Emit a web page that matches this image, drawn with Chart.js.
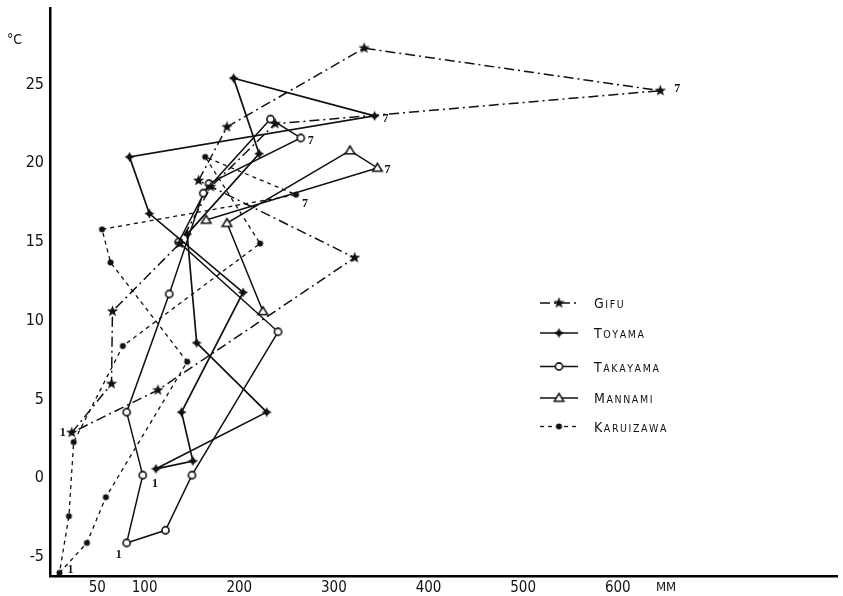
<!DOCTYPE html>
<html><head><meta charset="utf-8">
<script src="https://cdn.jsdelivr.net/npm/chart.js@4"></script>
<style>html,body{margin:0;padding:0;background:#fff;}canvas{display:block}</style>
</head><body>
<canvas id="c" width="843" height="596"></canvas>
<script>
// ---- data (precipitation mm, mean temperature °C), months 1..12 ----
const monthNumbers = [1,2,3,4,5,6,7,8,9,10,11,12];
const seriesNames = ['Gifu','Toyama','Takayama','Mannami','Karuizawa'];
const xTickValues = [50,100,200,300,400,500,600];
const yTickValues = [-5,0,5,10,15,20,25];

const gifuPrecip = [23,65,66,137,170,238,645,332,187,157,322,114];
const gifuTemp   = [2.9,6.0,10.6,14.9,18.5,22.5,24.6,27.3,22.3,18.9,14.0,5.6];

const toyamaPrecip = [112,151,139,204,105,84,343,194,221,145,155,229];
const toyamaTemp   = [0.6,1.1,4.2,11.8,16.8,20.4,23.0,25.4,20.6,15.5,8.6,4.2];

const takayamaPrecip = [81,122,150,241,136,168,265,233,162,126,81,98];
const takayamaTemp   = [-4.1,-3.3,0.2,9.3,15.0,18.7,21.6,22.8,18.1,11.7,4.2,0.2];

const mannamiPrecip = [null,null,null,null,null,165,346,317,187,225,null,null];
const mannamiTemp   = [null,null,null,null,null,16.4,19.7,20.8,16.2,10.6,null,null];

const karuizawaPrecip = [10,39,59,145,64,55,260,164,222,77,25,20];
const karuizawaTemp   = [-6.0,-4.1,-1.2,7.4,13.7,15.8,18.0,20.4,14.9,8.4,2.3,-2.4];

// ---- marker images ----
function mk(size, draw){const c=document.createElement('canvas');c.width=size;c.height=size;const g=c.getContext('2d');draw(g,size/2);return c;}
function starPath(g,c,n,ro,ri,rot){g.beginPath();for(let i=0;i<2*n;i++){const r=i%2?ri:ro;const a=rot+i*Math.PI/n;g.lineTo(c+r*Math.sin(a),c-r*Math.cos(a));}g.closePath();}
const gifuMark = mk(13,(g,c)=>{g.fillStyle='#111';starPath(g,c,5,6,2.5,0);g.fill();});
const toyamaMark = mk(11,(g,c)=>{g.fillStyle='#111';starPath(g,c,4,5,2.3,0);g.fill();g.beginPath();g.arc(c,c,2.6,0,7);g.fill();});
const takayamaMark = mk(11,(g,c)=>{g.fillStyle='#fff';g.strokeStyle='#111';g.lineWidth=1.6;g.beginPath();g.arc(c,c,3.6,0,7);g.fill();g.stroke();});
const mannamiMark = mk(13,(g,c)=>{g.fillStyle='#fff';g.strokeStyle='#111';g.lineWidth=1.5;g.beginPath();g.moveTo(c,c-4.5);g.lineTo(c+4.8,c+3.3);g.lineTo(c-4.8,c+3.3);g.closePath();g.fill();g.stroke();});
const karuizawaMark = mk(9,(g,c)=>{g.fillStyle='#111';g.beginPath();g.arc(c,c,3,0,7);g.fill();});

function loopPoints(px, ty, close){
  const pts=[];
  for(let i=0;i<px.length;i++){ if(px[i]!=null && ty[i]!=null) pts.push({x:px[i], y:ty[i], m:monthNumbers[i]}); }
  if(close && pts.length) pts.push({x:pts[0].x, y:pts[0].y, m:0});
  return pts;
}

const styles = [
  {mark:gifuMark, dash:[10,4,2,4], w:1.5},
  {mark:toyamaMark, dash:[], w:1.7},
  {mark:takayamaMark, dash:[], w:1.5},
  {mark:mannamiMark, dash:[], w:1.5},
  {mark:karuizawaMark, dash:[4,4], w:1.3}
];
const seriesData = [
  loopPoints(gifuPrecip,gifuTemp,true),
  loopPoints(toyamaPrecip,toyamaTemp,true),
  loopPoints(takayamaPrecip,takayamaTemp,true),
  loopPoints(mannamiPrecip,mannamiTemp,false),
  loopPoints(karuizawaPrecip,karuizawaTemp,true)
];
// offsets of month labels "1"/"7" (style only)
const labelOffsets = [
  {1:[-9,0], 7:[17,-2]},
  {1:[-1,15], 7:[11,3]},
  {1:[-8,12], 7:[10,3]},
  {7:[10,2]},
  {1:[11,-3], 7:[9,9]}
];

const datasets = seriesNames.map((n,i)=>({
  label:n, data:seriesData[i], showLine:true, tension:0,
  borderColor:'#111', borderWidth:styles[i].w, borderDash:styles[i].dash,
  pointStyle:styles[i].mark, backgroundColor:'#111',
  pointRadius:(ctx)=> (ctx.raw && ctx.raw.m===0) ? 0 : 4,
  order: i
}));

const extras = {
  id:'extras',
  afterDatasetsDraw(chart){
    const g=chart.ctx, xs=chart.scales.x, ys=chart.scales.y;
    g.save();
    g.fillStyle='#111';
    g.font='bold 12px "Liberation Serif", serif';
    g.textAlign='center'; g.textBaseline='middle';
    seriesData.forEach((pts,i)=>{
      pts.forEach(p=>{
        const off = labelOffsets[i][p.m];
        if(off && (p.m===1||p.m===7)){
          g.fillText(String(p.m), xs.getPixelForValue(p.x)+off[0], ys.getPixelForValue(p.y)+off[1]);
        }
      });
    });
    // axis unit labels
    g.font='14px "Liberation Sans Narrow","DejaVu Sans Condensed",sans-serif';
    g.textAlign='left';
    g.fillText('°C', 7, 40);
    g.font='13px "Liberation Sans Narrow","DejaVu Sans Condensed",sans-serif';
    g.fillText('MM', 656, 588);
    // legend
    const lx0=540, lx1=578, lyTop=303, rows=[0,30,63.5,95,123.5];
    seriesNames.forEach((n,i)=>{
      const y=lyTop+rows[i];
      g.save();
      g.strokeStyle='#111'; g.lineWidth=styles[i].w;
      g.setLineDash(styles[i].dash);
      g.beginPath(); g.moveTo(lx0,y); g.lineTo(lx1,y); g.stroke();
      g.restore();
      const m=styles[i].mark;
      g.drawImage(m, 559-m.width/2, y-m.height/2);
      // small caps text
      let tx=594;
      const up=n.toUpperCase();
      g.textBaseline='alphabetic'; g.textAlign='left';
      for(let k=0;k<up.length;k++){
        g.font = (k===0?'14px':'10.5px')+' "Liberation Sans Narrow","DejaVu Sans Condensed",sans-serif';
        g.fillText(up[k], tx, y+5);
        tx += g.measureText(up[k]).width + 1.6;
      }
    });
    g.restore();
  }
};

function noPad(s){s.paddingTop=0;s.paddingBottom=0;s.paddingLeft=0;s.paddingRight=0;}

new Chart(document.getElementById('c'), {
  type:'scatter',
  data:{datasets},
  options:{
    responsive:false, animation:false, devicePixelRatio:1, events:[],
    layout:{padding:{top:8,left:0,right:0,bottom:0}},
    plugins:{legend:{display:false}, tooltip:{enabled:false}},
    scales:{
      x:{type:'linear', min:0, max:832,
        grid:{display:false, drawTicks:false},
        border:{display:true, color:'#000', width:2.5},
        afterBuildTicks:(s)=>{s.ticks=xTickValues.map(v=>({value:v}));},
        afterFit:(s)=>{s.height=20;noPad(s);},
        ticks:{color:'#111', padding:3, maxRotation:0, autoSkip:false,
          font:{family:'"Liberation Sans Narrow","DejaVu Sans Condensed",sans-serif', size:15}}
      },
      y:{type:'linear', min:-6.2, max:29.85,
        grid:{display:false, drawTicks:false},
        border:{display:true, color:'#000', width:2.5},
        afterBuildTicks:(s)=>{s.ticks=yTickValues.map(v=>({value:v}));},
        afterFit:(s)=>{s.width=50;noPad(s);},
        ticks:{color:'#111', padding:6, autoSkip:false,
          font:{family:'"Liberation Sans Narrow","DejaVu Sans Condensed",sans-serif', size:16}}
      }
    }
  },
  plugins:[extras]
});
</script>
</body></html>
